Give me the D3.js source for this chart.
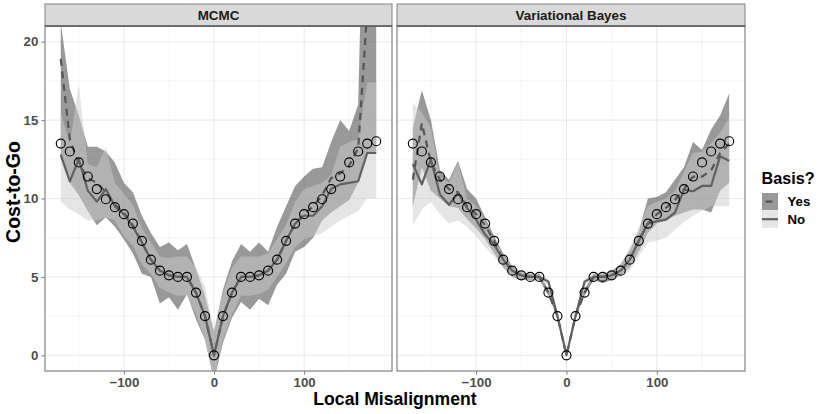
<!DOCTYPE html>
<html><head><meta charset="utf-8">
<script src="https://cdn.jsdelivr.net/npm/d3@7"></script>
<style>body{margin:0;background:#fff}svg{display:block;font-family:"Liberation Sans",Arial,Helvetica,sans-serif}</style>
</head><body><svg id="c" width="830" height="414"></svg>
<script>
// ---- data ----
const xs = [-170,-160,-150,-140,-130,-120,-110,-100,-90,-80,-70,-60,-50,-40,-30,-20,-10,0,10,20,30,40,50,60,70,80,90,100,110,120,130,140,150,160,170,180];
const truth = [13.5,13.0,12.3,11.4,10.6,9.95,9.45,9.0,8.4,7.3,6.1,5.4,5.1,5.0,5.0,4.0,2.5,0,2.5,4.0,5.0,5.0,5.1,5.4,6.1,7.3,8.4,9.0,9.45,9.95,10.6,11.4,12.3,13.0,13.5,13.65];

const facets = ["MCMC","Variational Bayes"];
const groups = ["Yes","No"];

const mcmcYesMean = [18.9,13.8,12.2,11.3,11.0,10.4,9.6,9.1,8.3,7.2,6.1,5.4,5.1,5.0,5.0,4.0,2.5,0,2.5,4.0,5.0,5.0,5.1,5.4,6.1,7.3,8.4,9.0,9.5,10.2,11.3,11.6,12.1,13.2,22,28];
const mcmcYesLo = [12.5,11.0,10.2,9.2,8.3,8.8,8.2,7.4,6.5,5.2,5.0,3.3,3.7,2.9,3.9,2.3,1.0,-1.6,0.8,2.4,3.4,2.9,3.6,3.2,4.5,5.2,6.6,6.9,7.5,8.6,9.1,9.5,9.9,11.0,12.9,12.9];
const mcmcYesHi = [21.2,17.0,15.3,13.3,13.3,13.0,12.3,11.0,10.4,8.9,7.8,6.9,7.2,6.7,7.1,5.5,3.8,1.5,4.2,6.0,7.1,6.6,7.2,6.6,8.2,9.5,10.8,11.4,11.9,12.0,13.6,15.0,14.3,16.0,40,40];
const mcmcNoMean = [12.8,11.1,12.5,10.5,9.8,10.6,9.5,9.0,8.2,7.2,6.1,5.4,5.1,5.0,5.0,4.0,2.5,0,2.5,4.0,5.0,5.0,5.1,5.4,6.1,7.3,8.4,8.9,8.9,9.5,10.6,10.9,11.0,11.1,12.9,12.9];
const mcmcNoLo = [9.8,9.3,9.0,8.6,8.6,8.8,8.6,7.6,7.0,5.8,5.2,4.3,4.0,3.8,3.8,2.6,1.0,-1.5,1.0,2.6,3.8,3.8,3.9,4.2,5.0,5.9,6.9,7.4,7.6,7.8,8.2,8.6,8.9,9.2,10.0,10.0];
const mcmcNoHi = [15.5,13.5,17.3,12.2,12.0,13.3,11.0,10.3,9.6,8.1,7.2,6.3,6.2,6.3,6.3,5.6,4.4,1.6,4.0,5.6,6.3,6.3,6.3,6.5,7.4,8.3,9.8,10.6,10.8,11.0,11.5,13.3,13.6,13.8,17.4,17.4];

const vbYesMean = [11.2,14.8,12.3,11.2,10.6,10.4,9.5,9.0,8.3,7.3,6.1,5.4,5.1,5.0,5.0,4.0,2.5,0,2.5,4.0,5.0,5.0,5.1,5.4,6.1,7.3,8.4,9.0,9.4,9.9,10.6,11.4,11.4,11.8,12.9,13.5];
const vbYesLo = [9.5,12.0,10.5,10.0,9.5,9.4,8.7,8.1,7.4,6.5,5.6,5.0,4.8,4.8,4.8,3.8,2.4,-0.05,2.4,3.8,4.8,4.6,4.8,5.1,5.6,6.6,7.8,8.4,8.6,8.9,9.1,9.3,9.3,9.1,10.5,11.0];
const vbYesHi = [14.5,16.9,15.0,11.8,11.2,12.4,10.6,10.0,8.8,7.6,6.5,5.7,5.3,5.2,5.2,4.2,2.6,0.05,2.6,4.2,5.2,5.2,5.4,5.8,6.7,7.9,10.0,10.1,10.4,11.2,12.0,13.6,13.1,14.4,15.3,16.7];
const vbNoMean = [12.2,10.9,12.5,10.25,9.6,10.35,9.4,8.65,7.7,7.06,6.1,5.4,5.1,5.0,5.0,4.7,2.5,0,2.5,4.7,5.0,5.0,5.1,5.4,6.1,7.3,8.4,8.55,8.65,9.1,10.57,10.46,10.8,10.8,12.7,12.4];
const vbNoLo = [8.3,9.3,9.8,9.0,8.4,8.6,8.2,7.6,6.9,6.3,5.6,5.0,4.8,4.8,4.7,4.5,2.4,-0.05,2.4,4.5,4.8,4.8,4.9,5.0,5.4,6.3,7.2,7.3,7.5,8.0,8.5,8.9,9.2,9.5,9.5,9.5];
const vbNoHi = [16.1,15.5,14.5,11.4,11.0,12.3,10.0,9.5,8.6,7.4,6.4,5.6,5.3,5.2,5.2,4.9,2.6,0.05,2.6,4.9,5.2,5.2,5.3,5.8,6.9,8.2,9.5,9.8,10.0,10.5,11.7,12.9,13.0,13.5,14.2,15.2];

const xMajor = [-100,0,100], xMinor = [-150,-50,50,150];
const yMajor = [0,5,10,15,20], yMinor = [2.5,7.5,12.5,17.5];

// ---- build ----
const series = [
  {Yes:{m:mcmcYesMean,lo:mcmcYesLo,hi:mcmcYesHi}, No:{m:mcmcNoMean,lo:mcmcNoLo,hi:mcmcNoHi}},
  {Yes:{m:vbYesMean,lo:vbYesLo,hi:vbYesHi}, No:{m:vbNoMean,lo:vbNoLo,hi:vbNoHi}}
];
const fillCol = {Yes:"#333333", No:"#cccccc"};
const lineCol = {Yes:"#555555", No:"#606060"};
const dash = {Yes:"7,5.5", No:null};

const svg = d3.select("#c");
const defs = svg.append("defs");
const pTop = 26, pBottom = 371;
const panelX = [[45,392],[397,745]];
const y = d3.scaleLinear().domain([-1,21]).range([pBottom,pTop]);

facets.forEach((name,i)=>{
  const [x0,x1] = panelX[i];
  const x = d3.scaleLinear().domain([-187.5,197.5]).range([x0,x1]);
  defs.append("clipPath").attr("id","clip"+i).append("rect")
    .attr("x",x0).attr("y",pTop).attr("width",x1-x0).attr("height",pBottom-pTop);
  const g = svg.append("g");
  g.append("rect").attr("x",x0).attr("y",pTop).attr("width",x1-x0).attr("height",pBottom-pTop).attr("fill","#fff");
  const grid = g.append("g");
  xMinor.forEach(v=>grid.append("line").attr("x1",x(v)).attr("x2",x(v)).attr("y1",pTop).attr("y2",pBottom).attr("stroke","#ededed").attr("stroke-width",0.6));
  yMinor.forEach(v=>grid.append("line").attr("x1",x0).attr("x2",x1).attr("y1",y(v)).attr("y2",y(v)).attr("stroke","#ededed").attr("stroke-width",0.6));
  xMajor.forEach(v=>grid.append("line").attr("x1",x(v)).attr("x2",x(v)).attr("y1",pTop).attr("y2",pBottom).attr("stroke","#ebebeb").attr("stroke-width",1.1));
  yMajor.forEach(v=>grid.append("line").attr("x1",x0).attr("x2",x1).attr("y1",y(v)).attr("y2",y(v)).attr("stroke","#ebebeb").attr("stroke-width",1.1));

  const pg = g.append("g").attr("clip-path",`url(#clip${i})`);
  groups.forEach(k=>{
    const s = series[i][k];
    const area = d3.area().x((d,j)=>x(xs[j])).y0((d,j)=>y(s.lo[j])).y1((d,j)=>y(s.hi[j]));
    pg.append("path").attr("d",area(xs)).attr("fill",fillCol[k]).attr("fill-opacity",0.5);
  });
  groups.forEach(k=>{
    const s = series[i][k];
    const line = d3.line().x((d,j)=>x(xs[j])).y((d,j)=>y(s.m[j]));
    const p = pg.append("path").attr("d",line(xs)).attr("fill","none")
      .attr("stroke",lineCol[k]).attr("stroke-width",2.2).attr("stroke-linejoin","round");
    if(dash[k]) p.attr("stroke-dasharray",dash[k]);
  });
  pg.selectAll("circle.pt").data(xs).enter().append("circle")
    .attr("cx",d=>x(d)).attr("cy",(d,j)=>y(truth[j])).attr("r",4.5)
    .attr("fill","none").attr("stroke","#000").attr("stroke-width",1.15);

  // border
  g.append("rect").attr("x",x0).attr("y",pTop).attr("width",x1-x0).attr("height",pBottom-pTop)
    .attr("fill","none").attr("stroke","#8c8c8c").attr("stroke-width",1.3);
  // strip
  g.append("rect").attr("x",x0).attr("y",4).attr("width",x1-x0).attr("height",pTop-4)
    .attr("fill","#d9d9d9").attr("stroke","#8c8c8c").attr("stroke-width",1.1);
  g.append("line").attr("x1",x0).attr("x2",x1).attr("y1",pTop).attr("y2",pTop).attr("stroke","#333").attr("stroke-width",1.1);
  g.append("text").attr("x",(x0+x1)/2).attr("y",20.3).attr("text-anchor","middle")
    .attr("font-size",13.4).attr("font-weight","bold").attr("fill","#1a1a1a").text(name);

  // x axis
  const ax = g.append("g").attr("transform",`translate(0,${pBottom})`)
    .call(d3.axisBottom(x).tickValues(xMajor).tickSize(3.7).tickPadding(3));
  ax.select(".domain").remove();
  ax.selectAll("line").attr("stroke","#8c8c8c").attr("stroke-width",1.1);
  ax.selectAll("text").attr("font-size",13.3).attr("font-weight","bold").attr("fill","#4d4d4d")
    .attr("font-family","'Liberation Sans',Arial,sans-serif");

  if(i===0){
    const ay = g.append("g").attr("transform",`translate(${x0},0)`)
      .call(d3.axisLeft(y).tickValues(yMajor).tickSize(3.7).tickPadding(3));
    ay.select(".domain").remove();
    ay.selectAll("line").attr("stroke","#8c8c8c").attr("stroke-width",1.1);
    ay.selectAll("text").attr("font-size",13.3).attr("font-weight","bold").attr("fill","#4d4d4d")
      .attr("font-family","'Liberation Sans',Arial,sans-serif");
  }
});

// axis titles
svg.append("text").attr("x",395).attr("y",404.5).attr("text-anchor","middle")
  .attr("font-size",17.6).attr("font-weight","bold").attr("fill","#000").text("Local Misalignment");
svg.append("text").attr("transform","translate(19.5,192) rotate(-90)").attr("text-anchor","middle")
  .attr("font-size",19.5).attr("font-weight","bold").attr("fill","#000").text("Cost-to-Go");

// legend
const lg = svg.append("g");
lg.append("text").attr("x",761.5).attr("y",184).attr("font-size",16.2).attr("font-weight","bold").text("Basis?");
groups.forEach((k,j)=>{
  const ky = 193 + j*17.6;
  lg.append("rect").attr("x",762).attr("y",ky).attr("width",16).attr("height",17.2).attr("fill","#fff");
  lg.append("rect").attr("x",762).attr("y",ky).attr("width",16).attr("height",17.2).attr("fill",fillCol[k]).attr("fill-opacity",0.5);
  const l = lg.append("line").attr("x1",762).attr("x2",778).attr("y1",ky+8.6).attr("y2",ky+8.6)
    .attr("stroke",lineCol[k]).attr("stroke-width",2.2);
  if(dash[k]) l.attr("stroke-dasharray","0,3.5,7,20");
  lg.append("text").attr("x",787.5).attr("y",ky+13.4).attr("font-size",13.2).attr("font-weight","bold").text(k);
});
</script></body></html>
